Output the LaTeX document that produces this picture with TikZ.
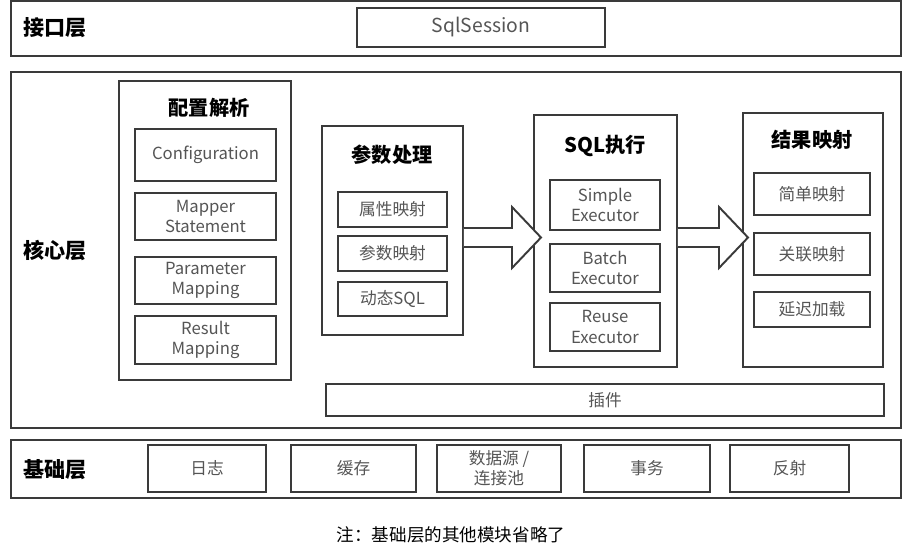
\documentclass[tikz,border=0pt]{standalone}
\usepackage{fontspec}
\setmainfont{Noto Sans CJK SC}
\usetikzlibrary{fit,positioning}
\definecolor{linegray}{HTML}{3A3A3A}
\definecolor{textgray}{HTML}{555555}

\begin{document}
\begin{tikzpicture}[x=0.02cm, y=-0.02cm,
layer/.style = {draw=linegray, line width=1.1pt, inner sep=0pt},
group/.style = {draw=linegray, line width=1.1pt, inner sep=0pt},
itemtext/.style = {align=center, text=textgray, inner sep=0pt,
                   font=\fontsize{9.5}{11.5}\selectfont},
item/.style = {draw=linegray, line width=1.1pt, inner sep=0pt,
               label={[itemtext]center:{#1}}},
title/.style = {font=\fontsize{11.5}{13}\selectfont\bfseries},
layername/.style = {font=\fontsize{12}{14}\selectfont\bfseries, anchor=west, inner sep=0pt},
bigarrow/.style = {draw=linegray, line width=1.1pt, fill=white, line join=miter}
                ]
\useasboundingbox (0,0) rectangle (902,547);

%% interface layer
\node (api) [layer, fit={(11,1) (901,56)}] {};
\node [layername] at (23,28) {接口层};
\node (sess) [draw=linegray, line width=1.1pt, inner sep=0pt, fit={(357,8) (605,47)},
      label={[itemtext, font=\fontsize{11}{13}\selectfont]center:SqlSession}] {};

%% core layer
\node (core) [layer, fit={(11,72) (901,428)}] {};
\node [layername] at (23,250) {核心层};

\node (cfg) [group, line width=1.6pt, fit={(119,81) (291,380)}] {};
\node [title] at (209,108) {配置解析};
\node (conf)  [item=Configuration, fit={(135,129) (276,181)}] {};
\node (mst)   [item=Mapper\\Statement, fit={(135,193) (276,240)}] {};
\node (pmap)  [item=Parameter\\Mapping, fit={(135,257) (276,304)}] {};
\node (rmap)  [item=Result\\Mapping, fit={(135,316) (276,364)}] {};

\node (param) [group, fit={(322,126) (463,335)}] {};
\node [title] at (392,155) {参数处理};
\node (attr)  [item=属性映射, fit={(338,192) (447,227)}] {};
\node (arg)   [item=参数映射, fit={(338,236) (447,271)}] {};
\node (dsql)  [item=动态SQL, fit={(338,282) (447,316)}] {};

\node (exec)  [group, fit={(534,115) (677,367)}] {};
\node [title] at (605,146) {SQL执行};
\node (simple) [item=Simple\\Executor, fit={(550,180) (660,230)}] {};
\node (batch)  [item=Batch\\Executor, fit={(550,244) (660,292)}] {};
\node (reuse)  [item=Reuse\\Executor, fit={(550,303) (660,351)}] {};

\node (result) [group, fit={(743,113) (883,367)}] {};
\node [title] at (812,140) {结果映射};
\node (plain)  [item=简单映射, fit={(754,173) (870,215)}] {};
\node (assoc)  [item=关联映射, fit={(754,233) (870,275)}] {};
\node (lazy)   [item=延迟加载, fit={(754,292) (870,327)}] {};

\node (plugin) [item=插件, fit={(326,384) (884,416)}] {};

%% arrows between the groups
\draw [bigarrow] (param.east |- 0,228) -- (512,228) -- (512,207)
      -- (541,237.5) -- (512,268) -- (512,247) -- (param.east |- 0,247);
\draw [bigarrow] (exec.east |- 0,228) -- (719,228) -- (719,207)
      -- (748,237.5) -- (719,268) -- (719,247) -- (exec.east |- 0,247);

%% base layer
\node (base) [layer, fit={(11,440) (901,498)}] {};
\node [layername] at (23,470) {基础层};
\node (log)   [item=日志, fit={(148,445) (266,492)}] {};
\node (cache) [item=缓存, fit={(291,445) (416,492)}] {};
\node (ds)    [item={数据源 /\\连接池}, fit={(437,445) (561,492)}] {};
\node (tx)    [item=事务, fit={(584,445) (710,492)}] {};
\node (refl)  [item=反射, fit={(730,445) (849,492)}] {};

\node (note) at (451,535) [font=\fontsize{10}{12}\selectfont] {注：基础层的其他模块省略了};
%%
\end{tikzpicture}
\end{document}
